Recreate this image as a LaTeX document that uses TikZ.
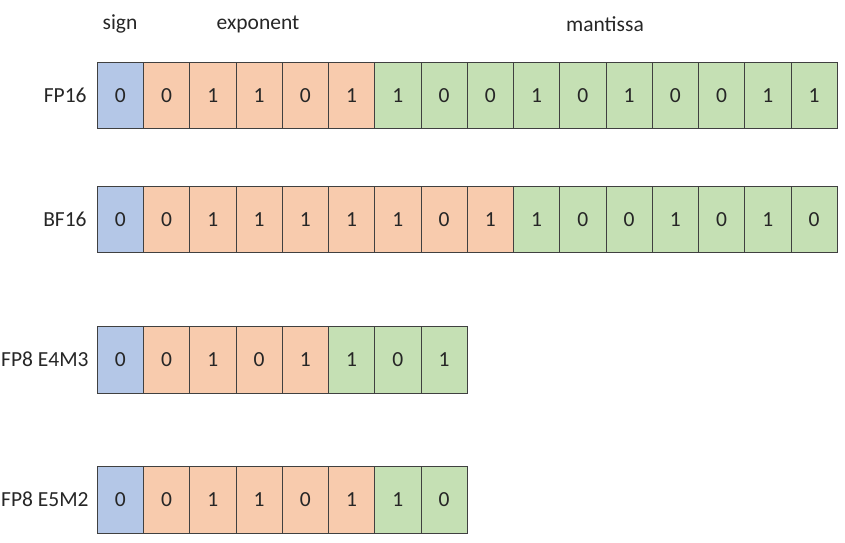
\documentclass[tikz,border=0pt]{standalone}
\usepackage{fontspec}
\setmainfont{Carlito}
\usetikzlibrary{positioning}

\definecolor{signblue}{RGB}{180,199,231}
\definecolor{exporange}{RGB}{248,203,173}
\definecolor{mantgreen}{RGB}{197,224,180}
\definecolor{celledge}{RGB}{64,64,64}

\tikzset{
  bitcell/.style={draw=celledge, line width=0.9pt, minimum width=46.25pt, minimum height=66.5pt,
    inner sep=0pt, font=\fontsize{21.5}{25}\selectfont, text=black!85},
  rowlabel/.style={font=\fontsize{21.5}{25}\selectfont, inner sep=0pt, text=black!85},
  fieldlabel/.style={font=\fontsize{21.5}{25}\selectfont, inner sep=0pt, text=black!85}
}

% #1 row name, #2 y centre, #3 last exponent bit, #4 bits
\newcommand{\bitrow}[4]{%
  \foreach \b [count=\i from 0] in {#4} {
    \ifnum\i=0 \def\cellcol{signblue}\else
      \ifnum\i>#3 \def\cellcol{mantgreen}\else \def\cellcol{exporange}\fi
    \fi
    \node[bitcell, fill=\cellcol] (#1-\i) at ({120.4+46.25*\i}, #2) {\b};
  }
}

\begin{document}
\begin{tikzpicture}[x=1pt, y=-1pt]
  \useasboundingbox (0,0) rectangle (845,542);

  % field names
  \node[fieldlabel] (lsign) at (120,24) {sign};
  \node[fieldlabel] (lexp) at (258,24) {exponent};
  \node[fieldlabel] (lmant) at (605,24) {mantissa};

  % the four formats
  \bitrow{fp16}{95.2}{5}{0,0,1,1,0,1,1,0,0,1,0,1,0,0,1,1}
  \bitrow{bf16}{219.2}{8}{0,0,1,1,1,1,1,0,1,1,0,0,1,0,1,0}
  \bitrow{e4m3}{359.7}{4}{0,0,1,0,1,1,0,1}
  \bitrow{e5m2}{499.7}{5}{0,0,1,1,0,1,1,0}

  \node[rowlabel, left=10pt of fp16-0] (nfp16) {FP16};
  \node[rowlabel, left=10pt of bf16-0] (nbf16) {BF16};
  \node[rowlabel, left=8pt of e4m3-0] (ne4m3) {FP8 E4M3};
  \node[rowlabel, left=8pt of e5m2-0] (ne5m2) {FP8 E5M2};
\end{tikzpicture}
\end{document}
